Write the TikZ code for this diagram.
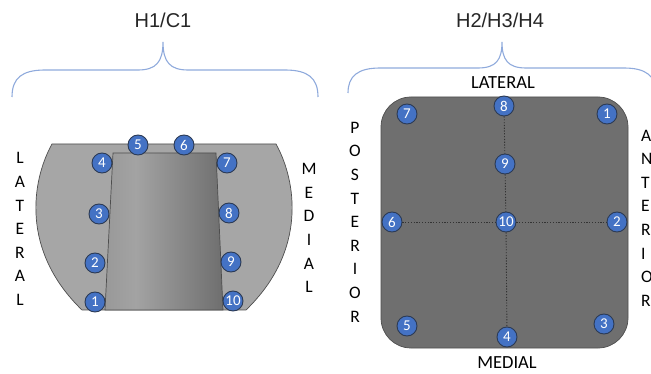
\documentclass[tikz,border=0pt]{standalone}
\usepackage{fontspec}
\setmainfont{Carlito}
\newfontfamily\titlefont{Liberation Sans}

\definecolor{bracecol}{HTML}{8FAADC}
\definecolor{ptblue}{HTML}{4472C4}
\definecolor{ptedge}{HTML}{2B3A55}
\definecolor{bodylight}{HTML}{A6A6A6}
\definecolor{bodydark}{HTML}{6F6F6F}
\definecolor{edgecol}{HTML}{4D4D4D}
\definecolor{ink}{HTML}{262626}
\definecolor{stemA}{HTML}{858585}
\definecolor{stemB}{HTML}{A3A3A3}
\definecolor{stemC}{HTML}{4B4B4B}
\pgfdeclarehorizontalshading{stem}{100bp}{color(0bp)=(stemA); color(38bp)=(stemB); color(100bp)=(stemC)}

\tikzset{
  pt/.style={circle, fill=ptblue, draw=ptedge, line width=0.9pt,
    minimum size=20pt, inner sep=0pt, text=white,
    font=\fontsize{15}{15}\selectfont},
  title/.style={text=ink, font=\titlefont\fontsize{20}{24}\selectfont},
  brace/.style={draw=bracecol, line width=1.1pt},
  vlab/.style={text=black, align=center, inner sep=0pt,
    font=\fontsize{17.5}{23.6}\selectfont},
  hlab/.style={text=black, font=\fontsize{18.5}{22}\selectfont},
  axis/.style={draw=black!80, line width=0.9pt, dash pattern=on 1.2pt off 1.6pt},
}

\begin{document}
\begin{tikzpicture}[x=1pt, y=-1pt]
\useasboundingbox (0,0) rectangle (651,374);

% headings and braces
\node[title] (t1) at (163,20) {H1/C1};
\node[title] (t2) at (500,20) {H2/H3/H4};
\draw[brace] (12,97) .. controls (12,78) and (22,70) .. (45,70) -- (138,70)
  .. controls (156,70) and (163,62) .. (163,42)
  .. controls (163,62) and (170,70) .. (188,70) -- (285,70)
  .. controls (308,70) and (318,78) .. (318,97);
\draw[brace] (348,93) .. controls (348,76) and (358,68) .. (380,68) -- (478,68)
  .. controls (496,68) and (502,60) .. (502,42)
  .. controls (502,60) and (508,68) .. (526,68) -- (624,68)
  .. controls (646,68) and (656,76) .. (656,93);

% side view: body and tapered stem
\draw[draw=edgecol, line width=0.7pt, fill=bodylight]
  (52,144) -- (276,144) .. controls (296,180) and (308,250) .. (246,310)
  -- (82,310) .. controls (20,250) and (32,180) .. (52,144) -- cycle;
\path[shading=stem, draw=edgecol, line width=0.7pt]
  (113,153) -- (216,153) -- (223,310) -- (105,310) -- cycle;

\node[pt] (a1) at (95,302) {1};
\node[pt] (a2) at (95,263) {2};
\node[pt] (a3) at (99,214) {3};
\node[pt] (a4) at (102,163) {4};
\node[pt] (a5) at (138,145) {5};
\node[pt] (a6) at (184,145) {6};
\node[pt] (a7) at (227,163) {7};
\node[pt] (a8) at (229,213) {8};
\node[pt] (a9) at (231,262) {9};
\node[pt] (a10) at (233,301) {10};

\node[vlab] (latl) at (20,229) {L\\A\\T\\E\\R\\A\\L};
\node[vlab] (medl) at (309,228) {M\\E\\D\\I\\A\\L};

% top view: rounded block with grid of points
\draw[draw=edgecol, line width=0.7pt, fill=bodydark, rounded corners=30pt]
  (381,97) rectangle (628,348);

\node[pt] (b7) at (407,114) {7};
\node[pt] (b8) at (504,106) {8};
\node[pt] (b1) at (607,114) {1};
\node[pt] (b9) at (505,164) {9};
\node[pt] (b6) at (392,222) {6};
\node[pt] (b10) at (506,222) {10};
\node[pt] (b2) at (617,222) {2};
\node[pt] (b5) at (407,326) {5};
\node[pt] (b4) at (507,337) {4};
\node[pt] (b3) at (604,324) {3};

\draw[axis] (b8) -- (b9);
\draw[axis] (b9) -- (b10);
\draw[axis] (b10) -- (b4);
\draw[axis] (b6) -- (b10);
\draw[axis] (b10) -- (b2);

\node[hlab] (latr) at (503,83) {LATERAL};
\node[hlab] (medr) at (507,363) {MEDIAL};
\node[vlab] (post) at (355,222) {P\\O\\S\\T\\E\\R\\I\\O\\R};
\node[vlab, align=left, anchor=west] (ant) at (641,218) {A\\N\\T\\E\\R\\I\\O\\R};
\end{tikzpicture}
\end{document}
